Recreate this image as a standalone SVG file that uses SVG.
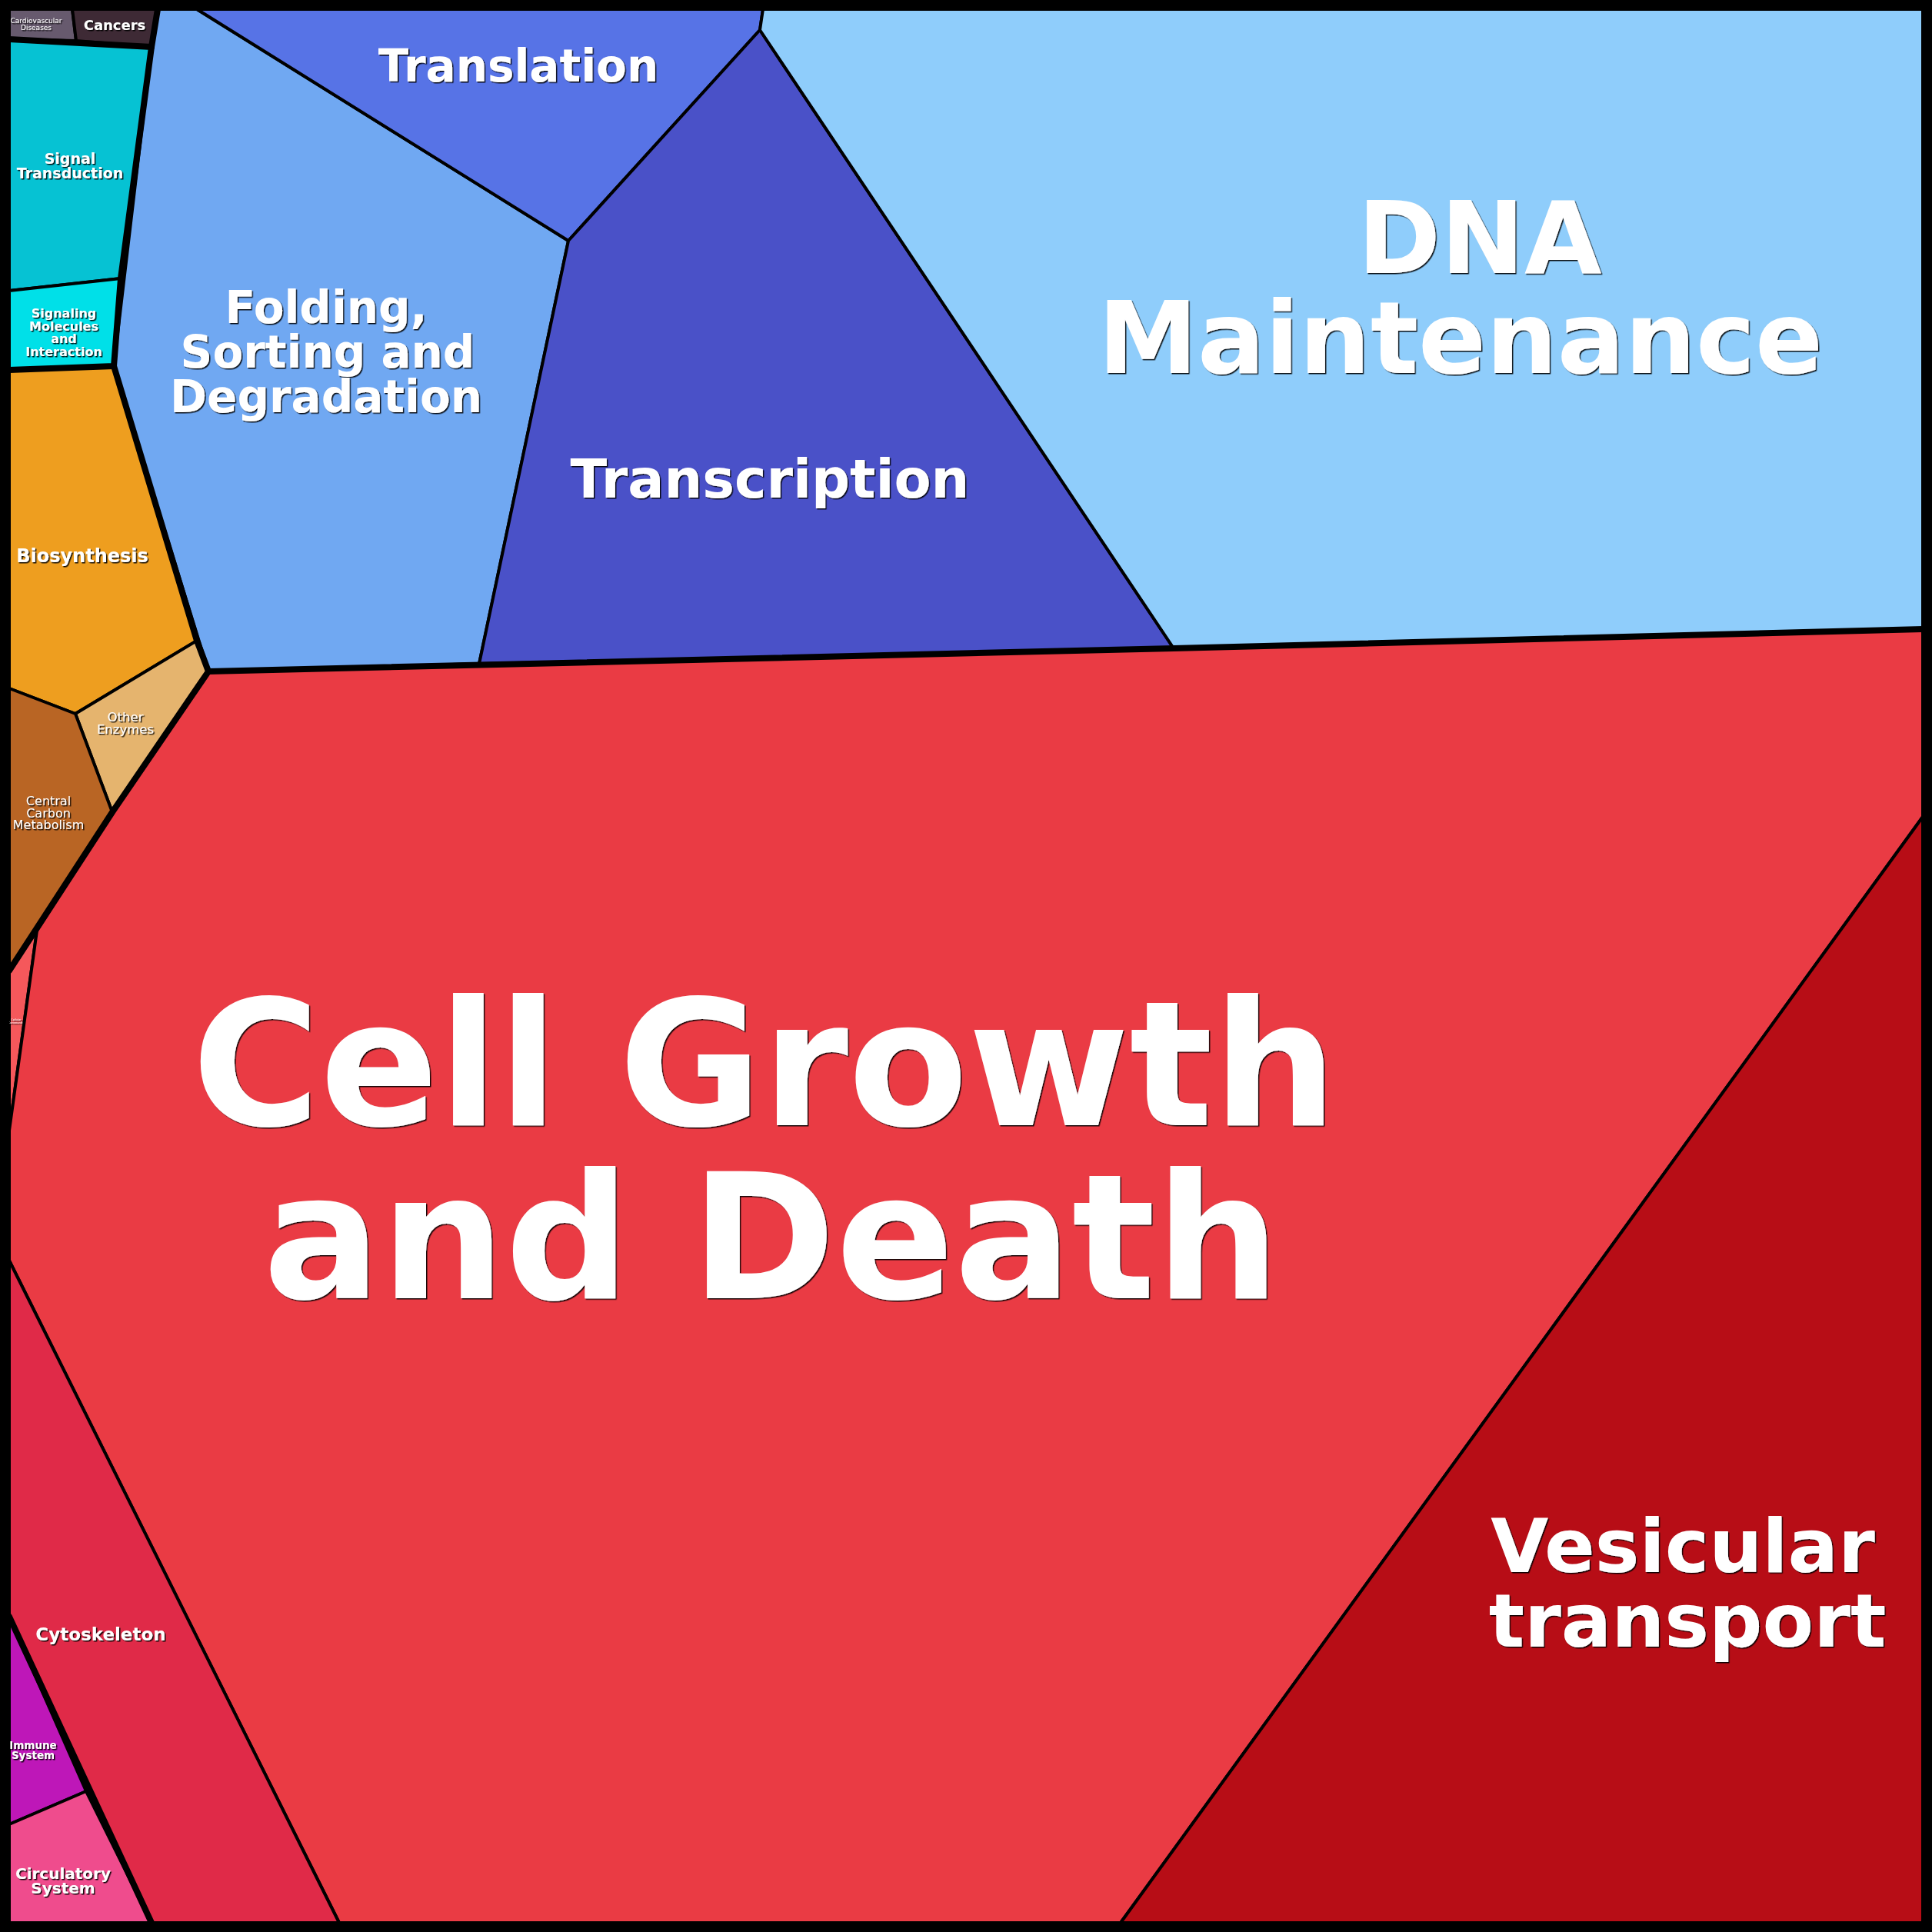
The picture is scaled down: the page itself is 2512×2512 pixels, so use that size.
<svg xmlns="http://www.w3.org/2000/svg" width="2512" height="2512" viewBox="0 0 2512 2512">
<style>
.cell{stroke:#000;stroke-width:4;stroke-linejoin:round}
.grp{fill:none;stroke:#000;stroke-width:8;stroke-linejoin:round;stroke-linecap:round}
text{font-family:"DejaVu Sans","Liberation Sans",sans-serif;fill:#fff;text-anchor:middle;filter:url(#sh)}
.b{font-weight:bold}
.n{font-weight:normal}
</style>
<defs>
<filter id="sh" x="-10%" y="-10%" width="120%" height="130%">
<feDropShadow dx="1.5" dy="1.5" stdDeviation="0.6" flood-color="#000" flood-opacity="0.9"/>
</filter>
</defs>
<rect x="0" y="0" width="2512" height="2512" fill="#000"/>

<g id="cardiovascular-diseases">
<polygon class="cell" fill="#675a6e" points="12,12 94,12 99,53 12,51"/>
<text class="n" font-size="9"><tspan x="47" y="30">Cardiovascular</tspan><tspan x="47" y="39">Diseases</tspan></text>
</g>
<g id="cancers">
<polygon class="cell" fill="#3e2a35" points="94,12 205,12 197,61 99,53"/>
<text class="b" font-size="18" x="149" y="39">Cancers</text>
</g>
<g id="signal-transduction">
<polygon class="cell" fill="#06c2d3" points="12,51 197,61 157,362 12,378"/>
<text class="b" font-size="19"><tspan x="91" y="213">Signal</tspan><tspan x="91" y="232">Transduction</tspan></text>
</g>
<g id="signaling-molecules">
<polygon class="cell" fill="#00e0e8" points="12,378 157,362 148,476 12,481"/>
<text class="b" font-size="16"><tspan x="83" y="413">Signaling</tspan><tspan x="83" y="429.5">Molecules</tspan><tspan x="83" y="446">and</tspan><tspan x="83" y="463">Interaction</tspan></text>
</g>
<g id="biosynthesis">
<polygon class="cell" fill="#ee9e1f" points="12,481 148,476 256,833 98,928 12,895"/>
<text class="b" font-size="24" x="107" y="731">Biosynthesis</text>
</g>
<g id="other-enzymes">
<polygon class="cell" fill="#e5b46e" points="98,928 256,833 271,873 146,1056"/>
<text class="n" font-size="16.5"><tspan x="163" y="938">Other</tspan><tspan x="163" y="954">Enzymes</tspan></text>
</g>
<g id="central-carbon-metabolism">
<polygon class="cell" fill="#b96524" points="12,895 98,928 146,1056 12,1262"/>
<text class="n" font-size="16"><tspan x="63" y="1047">Central</tspan><tspan x="63" y="1062.5">Carbon</tspan><tspan x="63" y="1078">Metabolism</tspan></text>
</g>
<g id="folding-sorting-degradation">
<polygon class="cell" fill="#70a8f2" points="205,12 256,12 739,313 623,863 271,873 148,476 197,61"/>
<text class="b" font-size="58"><tspan x="424" y="420">Folding,</tspan><tspan x="426" y="478">Sorting and</tspan><tspan x="424" y="536">Degradation</tspan></text>
</g>
<g id="translation">
<polygon class="cell" fill="#5773e6" points="256,12 992,12 988,39 739,313"/>
<text class="b" font-size="58" x="674" y="106">Translation</text>
</g>
<g id="transcription">
<polygon class="cell" fill="#4a51c8" points="988,39 1526,843 623,863 739,313"/>
<text class="b" font-size="70" x="1001" y="647">Transcription</text>
</g>
<g id="dna-maintenance">
<polygon class="cell" fill="#8fcdfb" points="992,12 2500,12 2500,818 1526,843 988,39"/>
<text class="b" font-size="130"><tspan x="1924" y="355">DNA</tspan><tspan x="1899" y="485">Maintenance</tspan></text>
</g>
<g id="cellular-community">
<polygon class="cell" fill="#f5585b" points="12,1264 48,1210 12,1470"/>
<text class="n" font-size="3.5"><tspan x="21" y="1327">Cellular</tspan><tspan x="21" y="1331">Community</tspan></text>
</g>
<g id="cell-growth-and-death">
<polygon class="cell" fill="#ea3b44" points="271,873 1526,843 2500,818 2500,1062 1457,2500 441,2500 12,1639 12,1470 48,1210 146,1056"/>
<text class="b" font-size="227"><tspan x="994" y="1463">Cell Growth</tspan><tspan x="1003" y="1688">and Death</tspan></text>
</g>
<g id="vesicular-transport">
<polygon class="cell" fill="#b70d16" points="2500,1062 2500,2500 1457,2500"/>
<text class="b" font-size="97"><tspan x="2188" y="2044">Vesicular</tspan><tspan x="2194" y="2141">transport</tspan></text>
</g>
<g id="cytoskeleton">
<polygon class="cell" fill="#e02a48" points="12,1639 441,2500 197,2500 12,2102"/>
<text class="b" font-size="23" x="131" y="2133">Cytoskeleton</text>
</g>
<g id="immune-system">
<polygon class="cell" fill="#be17b8" points="12,2102 112,2329 12,2372"/>
<text class="b" font-size="13.5"><tspan x="43" y="2274">Immune</tspan><tspan x="43" y="2287">System</tspan></text>
</g>
<g id="circulatory-system">
<polygon class="cell" fill="#ef4c8d" points="12,2372 112,2329 197,2500 12,2500"/>
<text class="b" font-size="20"><tspan x="82" y="2443">Circulatory</tspan><tspan x="82" y="2462">System</tspan></text>
</g>

<g id="group-borders">
<path class="grp" d="M12,51 L197,61 L205,12"/>
<path class="grp" d="M197,61 L157,362 L148,476 L12,481"/>
<path class="grp" d="M148,476 L256,833 L271,873 L146,1056 L12,1262"/>
<path class="grp" d="M271,873 L1526,843 L2500,818"/>
<path class="grp" d="M12,2102 L197,2500"/>
</g>
<rect id="frame" x="6" y="6" width="2500" height="2500" fill="none" stroke="#000" stroke-width="12"/>
</svg>
